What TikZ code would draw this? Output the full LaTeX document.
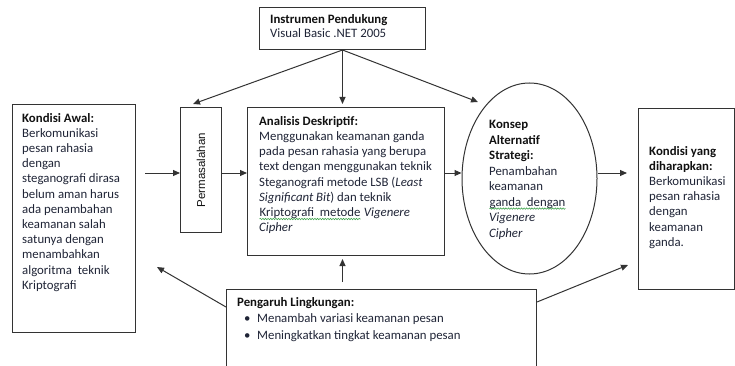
\documentclass[tikz,border=0pt]{standalone}
\usepackage{fontspec}
\setmainfont{Carlito}
\newfontfamily\permfont{Liberation Sans}
\usetikzlibrary{arrows.meta,shapes.geometric,calc,decorations.pathmorphing}

\definecolor{linegray}{HTML}{333333}
\definecolor{bodyink}{HTML}{1F2436}
\definecolor{headink}{HTML}{111111}
\definecolor{spellgreen}{HTML}{3FA34D}

% bold heading inside a text block
\newcommand{\head}[1]{{\color{headink}\bfseries #1}}
% wavy green proofing underline
\newcommand{\spellmark}[1]{\tikz[baseline=(sw.base)]{%
  \node[inner sep=0pt, anchor=base west, text=bodyink] (sw) at (0,0) {#1};%
  \draw[spellgreen, line width=0.6pt, decorate,
        decoration={snake, amplitude=0.7pt, segment length=2.6pt}]
    ([yshift=-2.6pt]sw.base west) -- ([yshift=-2.6pt]sw.base east);}}
\newcommand{\bodysize}{\fontsize{12.8}{15.2}\selectfont}

\begin{document}
\begin{tikzpicture}[x=1pt,y=-1pt,
  line/.style={draw=linegray, line width=1pt},
  box/.style={line, rectangle, inner sep=0pt, anchor=north west},
  txt/.style={inner sep=0pt, anchor=north west, align=left, font=\bodysize, text=bodyink},
  arr/.style={line, -{Triangle[length=7pt,width=6pt]}}]
\useasboundingbox (0,0) rectangle (735,366);
\clip (0,0) rectangle (735,366);

% frames
\node[box, minimum width=166pt, minimum height=42pt] (inst) at (259,7) {};
\node[box, minimum width=123pt, minimum height=228pt] (awal) at (12,104) {};
\node[box, minimum width=41pt, minimum height=125pt] (perm) at (180,107) {};
\node[box, minimum width=197pt, minimum height=148pt] (ana) at (247,107) {};
\node[line, ellipse, inner sep=0pt, minimum width=135pt, minimum height=191pt] (alt) at (529.5,178.5) {};
\node[box, minimum width=95.5pt, minimum height=181pt] (harap) at (638,108) {};
\node[box, minimum width=310pt, minimum height=100pt] (peng) at (226,289) {};

% texts
\node[txt, font=\fontsize{12.8}{14.5}\selectfont] (instT) at (270,14)
  {\head{Instrumen Pendukung}\\ Visual Basic .NET 2005};
\node[txt] (awalT) at (22,113)
  {\head{Kondisi Awal:}\\ Berkomunikasi\\ pesan rahasia\\ dengan\\ steganografi dirasa\\
   belum aman harus\\ ada penambahan\\ keamanan salah\\ satunya dengan\\ menambahkan\\
   algoritma\ \ teknik\\ Kriptografi};
\node[rotate=90, inner sep=0pt, font=\permfont\fontsize{11.5}{13}\selectfont, text=headink]
  (permT) at (perm.center) {Permasalahan};
\node[txt] (anaT) at (259,116)
  {\head{Analisis Deskriptif:}\\
   Menggunakan keamanan ganda\\
   pada pesan rahasia yang berupa\\
   text dengan menggunakan teknik\\
   Steganografi metode LSB (\textit{Least}\\
   \textit{Significant Bit}) dan teknik\\
   \spellmark{Kriptografi\ \ metode} \textit{Vigenere}\\
   \textit{Cipher}};
\node[txt, font=\fontsize{12.8}{15.5}\selectfont] (altT) at (489,120)
  {\head{Konsep}\\ \head{Alternatif}\\ \head{Strategi:}\\ Penambahan\\ keamanan\\
   \spellmark{ganda\ \ dengan}\\ \textit{Vigenere}\\ \textit{Cipher}};
\node[txt] (harapT) at (649,146)
  {\head{Kondisi yang}\\ \head{diharapkan:}\\ Berkomunikasi\\ pesan rahasia\\ dengan\\
   keamanan\\ ganda.};
\node[txt, font=\fontsize{12.8}{16.5}\selectfont] (pengT) at (237,297)
  {\head{Pengaruh Lingkungan:}\\
   \hspace*{7pt}\makebox[13pt][l]{\textbullet}Menambah variasi keamanan pesan\\
   \hspace*{7pt}\makebox[13pt][l]{\textbullet}Meningkatkan tingkat keamanan pesan};

% free ends of connectors
\coordinate (row) at (0,173);
\coordinate (permIn) at (193,104);
\coordinate (altIn) at (478,102);
\coordinate (awalIn) at (157,267);
\coordinate (harapIn) at (628,265);

% main flow
\draw[arr] ($(awal.east |- row)+(9,0)$) -- (perm.west |- row);
\draw[arr] (perm.east |- row) -- (ana.west |- row);
\draw[arr] (ana.east |- row) -- (alt.west |- row);
\draw[arr] (alt.east |- row) -- ($(harap.west |- row)+(-11,0)$);

% supporting instrument
\draw[arr] (inst.south) -- (permIn);
\draw[arr] (inst.south) -- ($(inst.south |- ana.north)+(0,-3)$);
\draw[arr] (inst.south) -- (altIn);

% environmental influence
\draw[arr] ($(inst.south |- peng.north)+(0,-7)$) -- ($(inst.south |- ana.south)+(0,3)$);
\draw[arr] ($(peng.north west)+(0,18)$) -- (awalIn);
\draw[arr] ($(peng.north east)+(0,13)$) -- (harapIn);
\end{tikzpicture}
\end{document}
